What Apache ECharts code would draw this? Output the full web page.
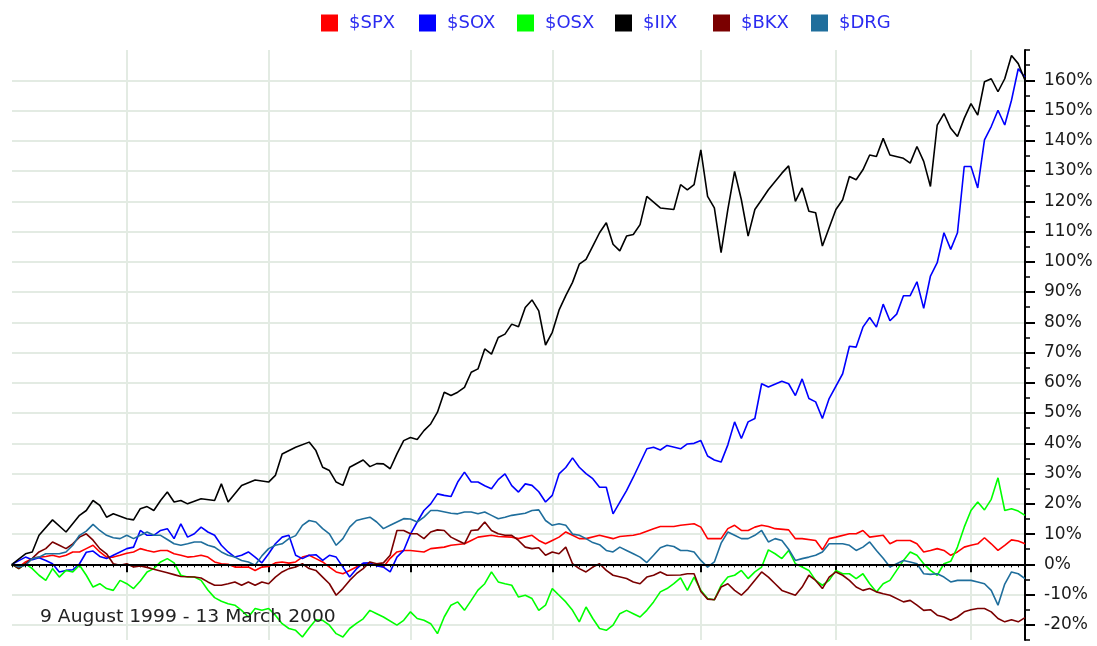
<!DOCTYPE html>
<html><head><meta charset="utf-8">
<script src="https://cdn.jsdelivr.net/npm/echarts@6/dist/echarts.min.js"></script>
<style>html,body{margin:0;padding:0;background:#fff}#c{width:1097px;height:646px}</style>
</head><body><div id="c"></div>
<script>
// ---- categories (trading days) ----
const startDate = '1999-08-09';
const endDate = '2000-03-13';
const holidays = ['1999-09-06', '1999-11-25', '1999-12-24', '2000-01-17', '2000-02-21'];
const dateRangeLabel = '9 August 1999 - 13 March 2000';

// ---- series meta ----
const seriesNames = ['$SPX', '$SOX', '$OSX', '$IIX', '$BKX', '$DRG'];
const seriesColors = ['#ff0000', '#0000ff', '#00ff00', '#000000', '#7a0000', '#1f6e9c'];

// ---- y tick labels ----
const yTickMin = -20, yTickMax = 160, yTickStep = 10;

// ---- series values: [trading-day index, % change] ----
const spx = [[0,0],[1,-0.9],[2,0.8],[3,1.9],[4,2.4],[5,2.6],[6,3],[7,2.4],[8,3],[9,4.1],[10,4.1],[11,5.2],[12,6.3],[13,4.1],[14,2.4],[15,2.4],[16,3],[17,3.7],[18,4.1],[19,5.2],[20,4.6],[21,4.1],[22,4.6],[23,4.6],[24,3.5],[25,3],[26,2.4],[27,2.6],[28,3],[29,2.4],[30,0.8],[31,0.2],[32,0],[33,-0.9],[35,-0.9],[36,-2],[37,-0.9],[38,-0.7],[39,0.5],[40,0.8],[41,0.4],[42,0.8],[43,2.4],[44,3],[45,1.9],[46,0.8],[47,-0.9],[48,-2.5],[49,-3.1],[50,-2],[51,-0.9],[52,0.2],[54,-0.3],[55,-0.9],[56,2],[57,4.1],[58,4.6],[59,4.6],[61,4.1],[62,5.2],[64,5.7],[65,6.3],[67,6.8],[68,7.9],[69,9],[71,9.6],[72,9.2],[74,9],[75,8.5],[77,9.6],[78,7.9],[79,6.8],[80,7.9],[81,9],[82,10.7],[83,9.6],[84,8.5],[85,8.5],[87,9.6],[89,8.5],[90,9.2],[92,9.6],[93,10.1],[95,11.8],[96,12.5],[98,12.5],[99,12.9],[101,13.4],[102,12.3],[103,8.5],[105,8.5],[106,11.8],[107,12.9],[108,11.2],[109,11.2],[110,12.3],[111,12.9],[112,12.5],[113,11.8],[115,11.4],[116,8.5],[117,8.5],[119,7.9],[120,4.8],[121,8.5],[122,9],[124,10.1],[125,10.1],[126,11.2],[127,9],[129,9.6],[130,6.8],[131,7.9],[133,7.9],[134,6.8],[135,4.1],[136,4.6],[137,5.2],[138,4.6],[139,3],[140,4.1],[141,5.7],[142,6.3],[143,6.8],[144,8.8],[145,6.8],[146,4.6],[147,6.3],[148,8.1],[149,7.7],[150,6.8]];
const sox = [[0,0],[2,2.4],[3,1.5],[4,2.2],[5,1.3],[6,0.2],[7,-2.5],[8,-2],[9,-1.8],[10,0.2],[11,4],[12,4.4],[13,2.6],[14,1.9],[15,3],[16,4.1],[17,5.2],[18,5.7],[19,11.2],[20,9.6],[21,9.6],[22,11.2],[23,11.8],[24,8.5],[25,13.4],[26,9],[27,10.1],[28,12.3],[29,10.7],[30,9.6],[31,6.3],[32,4.1],[33,2.4],[34,3],[35,4.1],[36,2.4],[37,0.5],[38,3.5],[39,6.8],[40,9],[41,9.6],[42,3],[43,1.9],[44,3],[45,3.2],[46,1.3],[47,3],[48,2.4],[49,-0.9],[50,-4.2],[51,-1.5],[52,0.4],[53,0.5],[54,-0.5],[55,-0.9],[56,-2.5],[57,2.4],[58,4.6],[59,10],[60,14],[61,17.8],[62,20],[63,23.3],[64,22.8],[65,22.4],[66,27.2],[67,30.5],[68,27.2],[69,27.2],[70,26],[71,25],[72,28],[73,29.9],[74,26],[75,23.9],[76,26.6],[77,26.1],[78,24],[79,20.6],[80,22.8],[81,29.9],[82,32],[83,35.2],[84,32.1],[85,30],[86,28.3],[87,25.5],[88,25.5],[89,16.7],[91,24.4],[92,28.8],[94,38.2],[95,38.7],[96,37.8],[97,39.3],[99,38.2],[100,39.8],[101,40],[102,40.9],[103,35.8],[104,34.5],[105,33.8],[106,39.5],[107,47.1],[108,41.6],[109,47.1],[110,48.2],[111,59.7],[112,58.6],[114,60.5],[115,59.7],[116,55.8],[117,61.3],[118,54.8],[119,53.7],[120,48.2],[121,54.8],[123,63],[124,72.1],[125,71.8],[126,78.4],[127,81.6],[128,78.4],[129,86],[130,80.5],[131,82.7],[132,88.8],[133,88.8],[134,93.4],[135,84.6],[136,95.3],[137,99.7],[138,109.6],[139,104.1],[140,109.6],[141,131.5],[142,131.5],[143,124.4],[144,140.3],[145,144.7],[146,150.1],[147,145.2],[148,153.4],[149,163.8],[150,161]];
const osx = [[0,0],[1,-1.4],[2,0.2],[3,-1.4],[4,-3.6],[5,-5.3],[6,-1.4],[7,-4.2],[8,-2],[9,-2.5],[10,-0.3],[11,-3.6],[12,-7.5],[13,-6.4],[14,-8],[15,-8.6],[16,-5.3],[17,-6.4],[18,-8],[19,-5.5],[20,-2.5],[21,-1.4],[22,0.8],[23,1.9],[24,0.5],[25,-3.6],[26,-4.2],[27,-4.2],[28,-5.3],[29,-8.5],[30,-11],[31,-12.2],[32,-13],[33,-13.5],[34,-15.2],[35,-17.4],[36,-14.6],[37,-15.2],[38,-14.6],[39,-16.8],[40,-19.6],[41,-21.2],[42,-21.8],[43,-24],[44,-21],[45,-18.3],[46,-18.5],[47,-20.1],[48,-22.9],[49,-24],[50,-21.2],[51,-19.5],[52,-18],[53,-15.2],[54,-16.3],[55,-17.4],[57,-20.1],[58,-18.5],[59,-15.7],[60,-17.9],[61,-18.5],[62,-19.6],[63,-22.9],[64,-17.4],[65,-13.5],[66,-12.4],[67,-15.2],[68,-11.9],[69,-8.5],[70,-6.4],[71,-2.5],[72,-5.8],[73,-6.4],[74,-6.9],[75,-10.8],[76,-10.2],[77,-11.3],[78,-15.2],[79,-13.5],[80,-8],[81,-10.2],[82,-12.4],[83,-15.2],[84,-19],[85,-14.1],[86,-17.9],[87,-21.2],[88,-21.8],[89,-20.1],[90,-16.3],[91,-15.2],[92,-16.3],[93,-17.4],[94,-15.2],[95,-12.4],[96,-9.1],[97,-8],[98,-6.4],[99,-4.5],[100,-8.6],[101,-4.2],[102,-8.6],[103,-11.3],[104,-11.7],[105,-6.9],[106,-4.2],[107,-3.6],[108,-2],[109,-4.7],[110,-2.5],[111,-0.9],[112,4.8],[113,3.5],[114,1.9],[115,4.6],[116,0.2],[117,-0.9],[118,-2],[119,-5.3],[120,-6.9],[121,-5.3],[122,-2],[123,-3.1],[124,-3.1],[125,-4.7],[126,-3.1],[127,-6.4],[128,-9.1],[129,-6.4],[130,-5.3],[131,-2],[132,1.3],[133,4.1],[134,3],[135,0.2],[136,-2],[137,-3.6],[138,0.2],[139,1],[140,5.7],[141,12.3],[142,17.8],[143,20.6],[144,18],[145,21.5],[146,28.6],[147,17.8],[148,18.4],[149,17.6],[150,16.2]];
const iix = [[0,0],[2,3.5],[3,4.1],[4,9.6],[6,14.7],[8,10.7],[10,16.2],[11,17.8],[12,21.1],[13,19.5],[14,15.6],[15,16.7],[17,15.1],[18,14.7],[19,18.4],[20,19.1],[21,17.8],[22,21.1],[23,23.9],[24,20.6],[25,21.1],[26,20],[28,21.7],[30,21.1],[31,26.6],[32,20.6],[34,26.1],[36,27.9],[38,27.2],[39,29.4],[40,36.5],[42,38.7],[44,40.4],[45,37.6],[46,32.1],[47,31],[48,27.2],[49,26.1],[50,32.1],[52,34.5],[53,32.3],[54,33.3],[55,33.2],[56,31.6],[57,36.5],[58,40.9],[59,41.9],[60,41.3],[61,44.2],[62,46.4],[63,50.3],[64,56.9],[65,55.8],[66,56.9],[67,58.5],[68,63.5],[69,64.6],[70,71.2],[71,69.5],[72,75],[73,76.1],[74,79.4],[75,78.5],[76,84.9],[77,87.4],[78,83.8],[79,72.5],[80,76.7],[81,84],[82,88.8],[83,93.2],[84,99.2],[85,100.8],[86,105.2],[87,109.6],[88,112.9],[89,105.8],[90,103.6],[91,108.5],[92,109],[93,112.3],[94,121.6],[96,117.8],[98,117.3],[99,125.5],[100,123.8],[101,125.5],[102,137],[103,121.6],[104,117.8],[105,103],[106,117.3],[107,129.9],[108,120.5],[109,108.5],[110,117.3],[111,120.5],[112,123.8],[114,129.3],[115,131.7],[116,120],[117,124.4],[118,116.7],[119,116.2],[120,105.2],[122,117.3],[123,120.5],[124,128.2],[125,127.1],[126,130.4],[127,135.3],[128,134.8],[129,140.8],[130,135.3],[132,134.2],[133,132.6],[134,138.1],[135,133.2],[136,124.9],[137,145.2],[138,149],[139,144.1],[140,141.4],[141,147.4],[142,152.3],[143,148.5],[144,159.5],[145,160.5],[146,156.2],[147,160.5],[148,168.2],[149,165.5],[150,160]];
const bkx = [[0,0],[1,-1.4],[2,0.2],[3,2],[4,4.1],[5,5.2],[6,7.4],[7,6.3],[8,5.2],[9,6.8],[10,9],[11,10.1],[12,8],[13,5.2],[14,3.5],[15,0.2],[16,-0.3],[17,0.2],[18,-0.9],[19,-0.5],[20,-1],[21,-1.6],[22,-2.2],[23,-2.8],[24,-3.4],[25,-4],[27,-4.2],[28,-4.5],[29,-5.8],[30,-6.9],[31,-6.9],[32,-6.4],[33,-5.8],[34,-6.9],[35,-5.8],[36,-6.9],[37,-5.8],[38,-6.4],[39,-4.2],[40,-2.5],[41,-1.4],[42,-0.9],[43,0.2],[44,-1.4],[45,-2],[46,-4.2],[47,-6.4],[48,-10.2],[49,-8],[50,-5.3],[51,-3.1],[52,-1.4],[53,0.8],[54,0.2],[55,0.5],[56,3],[57,11.2],[58,11.2],[59,10.1],[60,10.1],[61,8.5],[62,10.7],[63,11.4],[64,11.2],[65,9],[66,7.9],[67,6.8],[68,11.2],[69,11.4],[70,14],[71,11.2],[72,10.1],[73,9.6],[74,9.6],[75,7.9],[76,5.7],[77,5.2],[78,5.5],[79,3],[80,4.1],[81,3.5],[82,5.7],[83,0.2],[84,-1.4],[85,-2.5],[86,-0.9],[87,0.2],[88,-2],[89,-3.6],[91,-4.7],[92,-5.8],[93,-6.4],[94,-4.2],[95,-3.6],[96,-2.5],[97,-3.6],[99,-3.5],[100,-3.1],[101,-3.1],[102,-9],[103,-11.5],[104,-11.7],[105,-7.5],[106,-6.4],[107,-8.6],[108,-10.2],[109,-8],[111,-2.5],[112,-4.2],[113,-6.4],[114,-8.6],[116,-10.2],[117,-7.5],[118,-3.6],[119,-5.3],[120,-8],[121,-4.2],[122,-2.5],[123,-3.6],[124,-5.3],[125,-7.5],[126,-8.6],[127,-8],[128,-9.1],[129,-9.7],[130,-10.2],[132,-12.4],[133,-11.9],[134,-13.5],[135,-15.2],[136,-15],[137,-16.8],[138,-17.4],[139,-18.5],[140,-17.4],[141,-15.7],[142,-15],[143,-14.6],[144,-14.6],[145,-15.7],[146,-17.9],[147,-19],[148,-18.3],[149,-19],[150,-17.6]];
const drg = [[0,0],[1,-0.9],[2,-0.3],[3,1.9],[4,2.4],[5,3.5],[7,3.5],[8,4.1],[9,6.3],[10,9.6],[11,11],[12,13.2],[13,11.2],[14,9.6],[15,8.8],[16,8.5],[17,9.6],[18,8.5],[19,9.6],[20,10.7],[21,9.6],[22,9.6],[23,8.2],[24,6.8],[25,6.3],[26,6.8],[27,7.4],[28,7.4],[29,6.3],[30,5.7],[31,4.1],[32,3],[33,2.4],[34,1.3],[35,0.8],[36,-0.3],[37,2.8],[38,5.2],[39,6.3],[40,6.8],[41,8.5],[42,9.5],[43,12.9],[44,14.5],[45,14],[46,11.8],[47,10.1],[48,6.3],[49,8.5],[50,12.3],[51,14.5],[52,15.1],[53,15.6],[54,14],[55,11.8],[56,12.9],[58,15.1],[59,15],[60,14],[61,15.6],[62,17.8],[63,17.8],[65,16.9],[66,16.7],[67,17.3],[68,17.3],[69,16.7],[70,17.3],[71,16.2],[72,15.1],[73,15.6],[74,16.2],[76,16.9],[77,17.8],[78,18],[79,14.5],[80,12.9],[81,13.4],[82,12.9],[83,10],[84,9.6],[85,8.5],[86,7.2],[87,6.5],[88,4.6],[89,4.1],[90,5.7],[91,4.6],[92,3.5],[93,2.4],[94,0.6],[95,3],[96,5.5],[97,6.3],[98,5.9],[99,4.6],[100,4.6],[101,4.1],[102,1.3],[103,-0.9],[104,0.8],[105,7],[106,10.7],[107,9.6],[108,8.5],[109,8.5],[110,9.6],[111,11.2],[112,7.4],[113,8.5],[114,7.9],[115,5],[116,1.3],[117,1.9],[118,2.4],[119,3],[120,4.1],[121,6.8],[122,6.8],[123,6.8],[124,6.3],[125,4.6],[126,5.7],[127,7.4],[128,4.6],[129,2],[130,-0.9],[131,0.2],[132,1.3],[133,0.8],[134,0.2],[135,-3.1],[136,-3.3],[137,-3.1],[138,-4.2],[139,-5.8],[140,-5.3],[142,-5.3],[143,-5.8],[144,-6.4],[145,-8.6],[146,-13.5],[147,-6.5],[148,-2.5],[149,-3.1],[150,-4.7]];
const seriesData = [spx, sox, osx, iix, bkx, drg];

// ---- build trading-day categories ----
function tradingDays() {
  const out = [];
  let d = new Date(startDate + 'T00:00:00Z');
  const end = new Date(endDate + 'T00:00:00Z');
  while (d <= end) {
    const wd = d.getUTCDay();
    const s = d.toISOString().slice(0, 10);
    if (wd !== 0 && wd !== 6 && holidays.indexOf(s) < 0) out.push(s);
    d = new Date(d.getTime() + 86400000);
  }
  return out;
}
const days = tradingDays();
const monthStart = new Set();
days.forEach((s, i) => { if (i > 0 && s.slice(5, 7) !== days[i - 1].slice(5, 7)) monthStart.add(i); });

// ---- layout ----
const W = 1097, H = 646;
const L = 12, R = 72, T = 50, B = 6;
const yMin = -25, yMax = 170;
const pxPerUnit = (H - T - B) / (yMax - yMin);
const gridColor = '#e3ebe3';
const legendLeft = 321, legendPitch = 98;

const chart = echarts.init(document.getElementById('c'), null, { renderer: 'canvas' });
const series = seriesNames.map((n, k) => ({
  name: n, type: 'line', xAxisIndex: 0, yAxisIndex: 0,
  data: seriesData[k], showSymbol: false, symbol: 'none',
  lineStyle: { color: seriesColors[k], width: 1.6 }, itemStyle: { color: seriesColors[k] },
  emphasis: { disabled: true }, animation: false,
  markLine: k === 0 ? { silent: true, symbol: 'none', label: { show: false }, animation: false,
    lineStyle: { color: '#000', width: 2, type: 'solid' }, data: [{ yAxis: 0 }] } : undefined
}));

const legends = seriesNames.map((n, k) => ({
  data: [n], left: legendLeft + k * legendPitch, top: 14, itemWidth: 17, itemHeight: 17, icon: 'rect',
  selectedMode: false, padding: 0,
  textStyle: { color: '#2b2bf0', fontFamily: 'DejaVu Sans', fontSize: 18, padding: [0, 0, 0, 6] }
}));

chart.setOption({
  animation: false,
  backgroundColor: '#fff',
  legend: legends,
  grid: [
    { left: L, right: R, top: T, bottom: B },
    { left: L, right: R, top: T + (yMax - yTickMax) * pxPerUnit, bottom: B + (yTickMin - yMin) * pxPerUnit }
  ],
  xAxis: [
    { gridIndex: 0, type: 'category', data: days, boundaryGap: false,
      axisLine: { lineStyle: { color: '#000', width: 2 } },
      axisTick: { interval: 0, length: 3, lineStyle: { color: '#000', width: 1 } },
      axisLabel: { show: false },
      splitLine: { show: true, interval: (i) => monthStart.has(i), lineStyle: { color: gridColor, width: 2 } } },
    { gridIndex: 1, type: 'category', data: days, boundaryGap: false, position: 'bottom',
      offset: (yTickMin - yMin) * pxPerUnit,
      axisLine: { show: false },
      axisTick: { show: true, interval: (i) => monthStart.has(i), length: 8, lineStyle: { color: '#000', width: 2 } },
      axisLabel: { show: false }, splitLine: { show: false } }
  ],
  yAxis: [
    { gridIndex: 0, type: 'value', position: 'right', min: yMin, max: yMax, interval: 5,
      axisLine: { show: true, lineStyle: { color: '#000', width: 2 } },
      axisTick: { show: true, length: 5, lineStyle: { color: '#000', width: 1.5 } },
      axisLabel: { show: false }, splitLine: { show: false } },
    { gridIndex: 1, type: 'value', position: 'right', min: yTickMin, max: yTickMax, interval: yTickStep,
      axisLine: { show: false },
      axisTick: { show: true, length: 10, lineStyle: { color: '#000', width: 2 } },
      axisLabel: { formatter: '{value}%', margin: 19, color: '#1a1a1a', fontFamily: 'DejaVu Sans', fontSize: 17 },
      splitLine: { show: true, lineStyle: { color: gridColor, width: 2 } } }
  ],
  graphic: [
    { type: 'text', left: 40, top: 609, scaleX: 1.1, z: 10,
      style: { text: dateRangeLabel, font: '17px "DejaVu Sans"', fill: '#222' } }
  ],
  series: series
});
</script>
</body></html>
